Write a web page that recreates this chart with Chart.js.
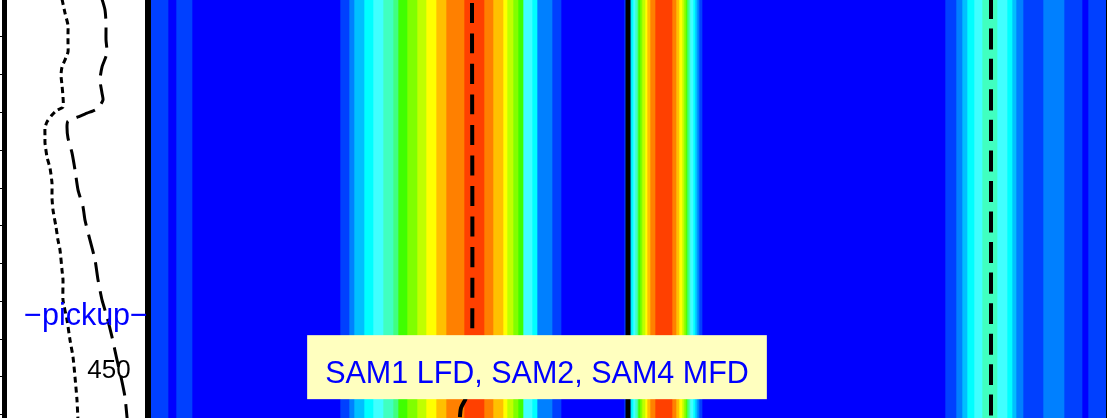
<!DOCTYPE html>
<html>
<head>
<meta charset="utf-8">
<script src="https://cdn.jsdelivr.net/npm/chart.js@4/dist/chart.umd.min.js"></script>
<style>
  html, body { margin: 0; padding: 0; background: #fff; }
  #wrap { position: relative; width: 1107px; height: 418px; overflow: hidden; }
  #profile { position: absolute; left: 0; top: 0; }
  #heat { position: absolute; left: 151px; top: 0; }
</style>
</head>
<body>
<div id="wrap">
  <canvas id="heat" width="956" height="418"></canvas>
  <canvas id="profile" width="151" height="418"></canvas>
</div>
<script>
// --- data ---------------------------------------------------------------
// depth axis (shared by both panels), visible window of the plot
const depthMin = 0.26;
const depthMax = 110.85;

// left panel: two profiles (x value, depth)
const dottedX = [58, 61, 64, 64, 64, 64, 61, 58, 57, 58, 59, 59, 53, 48, 43, 41, 41, 41, 43, 46, 48, 48, 49, 52, 54, 56, 58, 59, 59, 63, 66, 69, 71, 73, 74];
const dottedDepth = [0, 3.7, 6.9, 9.0, 11.6, 14.0, 16.1, 18.0, 20.1, 22.8, 25.9, 28.6, 29.4, 30.7, 32.5, 34.1, 36.5, 38.1, 41.8, 44.7, 48.7, 52.6, 55.8, 60.3, 63.8, 66.4, 71.7, 74.3, 79.6, 84.9, 90.2, 94.7, 100.0, 106.1, 111.5];
const dashedX = [98, 101, 102, 102, 103, 98, 96, 98, 99, 95, 91, 83, 74, 64, 63, 64, 68, 71, 74, 79, 81, 86, 91, 94, 98, 103, 108, 113, 117, 121, 123, 124];
const dashedDepth = [0, 2.9, 6.3, 10.8, 14.3, 18.0, 21.4, 24.9, 26.7, 28.6, 29.4, 30.2, 31.2, 32.3, 33.9, 36.8, 40.7, 45.2, 50.5, 55.0, 58.5, 63.8, 69.0, 74.3, 79.6, 84.1, 89.4, 95.5, 100.0, 105.3, 110.6, 112.7];

// right panel: filled intensity levels along the scan axis
const scanMax = 955;
const levelColors = ['#0000FF', '#0040FF', '#0080FF', '#00C0FF', '#00FFFF', '#40FFFF', '#40FFC0', '#40FF80',
                     '#40FF00', '#80FF00', '#C0FF00', '#FFFF00', '#FFC000', '#FF8000', '#FF4000'];
const stripeStart = [0, 17, 25, 41,
  189, 198, 203, 213, 222, 232, 242, 247, 256, 266, 275, 285, 295, 313, 333, 342, 352, 356, 362, 367, 372, 381, 386, 401, 410,
  473, 476, 478, 480, 482, 484, 486, 487, 489, 491, 494, 496, 499, 504, 521, 525, 528, 531, 533, 535, 536, 538, 539, 542, 544, 546, 548, 551,
  794, 805, 811, 816, 823, 831, 846, 856, 861, 865, 872, 892, 913, 931, 937];
const stripeLevel = [1, 0, 1, 0,
  1, 2, 3, 4, 5, 6, 7, 8, 9, 10, 11, 12, 13, 14, 13, 12, 11, 10, 9, 8, 5, 4, 2, 1, 0,
  1, 2, 3, 4, 5, 6, 7, 8, 9, 10, 11, 12, 13, 14, 13, 12, 11, 10, 9, 8, 7, 6, 5, 4, 3, 2, 1, 0,
  1, 2, 3, 4, 5, 6, 5, 4, 3, 2, 1, 2, 1, 0, 1];

// marker lines on the heat map (scan, depth)
const marker1Scan = [321, 321, 318, 314, 310, 309, 309];
const marker1Depth = [0, 100.5, 104.0, 106.1, 108.2, 110.3, 112];
const marker2Scan = [477, 477];
const marker2Depth = [0, 112];
const marker3Scan = [840, 840];
const marker3Depth = [0, 112];

// annotations
const pickupText = '\u2212pickup\u2212';
const pickupPos = [82, 86.2];
const contourText = '450';
const contourPos = [105, 100.3];
const sampleText = 'SAM1 LFD, SAM2, SAM4 MFD';
const samplePos = [386, 97.4];

const toPoints = (xs, ys) => xs.map((x, i) => ({ x: x, y: ys[i] }));
const FONT = '"Liberation Sans", Arial, Helvetica, sans-serif';

// --- left panel ----------------------------------------------------------
const profileText = {
  id: 'profileText',
  afterDraw(chart) {
    const { ctx, scales } = chart;
    ctx.save();
    ctx.textAlign = 'center';
    ctx.textBaseline = 'alphabetic';
    ctx.font = '30.5px ' + FONT;
    ctx.fillStyle = '#0000FF';
    ctx.fillText(pickupText, scales.x.getPixelForValue(pickupPos[0]), scales.y.getPixelForValue(pickupPos[1]));
    ctx.font = '26px ' + FONT;
    ctx.fillStyle = '#000';
    ctx.fillText(contourText, scales.x.getPixelForValue(contourPos[0]), scales.y.getPixelForValue(contourPos[1]));
    ctx.restore();
  }
};

new Chart(document.getElementById('profile'), {
  type: 'scatter',
  data: {
    datasets: [{
      data: toPoints(dottedX, dottedDepth),
      showLine: true,
      borderColor: '#000',
      borderWidth: 3,
      borderDash: [6, 4],
      pointRadius: 0,
      tension: 0.2
    }, {
      data: toPoints(dashedX, dashedDepth),
      showLine: true,
      borderColor: '#000',
      borderWidth: 3,
      borderDash: [20, 9],
      pointRadius: 0,
      tension: 0.2
    }]
  },
  options: {
    responsive: false,
    animation: false,
    layout: { padding: { right: 3 } },
    plugins: { legend: { display: false }, tooltip: { enabled: false } },
    scales: {
      x: { type: 'linear', min: 0, max: 144, display: false },
      y: {
        type: 'linear', reverse: true, min: depthMin, max: depthMax,
        ticks: { display: false, stepSize: 10, includeBounds: false },
        grid: { drawOnChartArea: false, drawTicks: true, tickLength: 4, color: '#000', lineWidth: 1 },
        border: { color: '#000', width: 5 }
      },
      yEdge: {
        axis: 'y', position: 'right', min: 0, max: 1,
        ticks: { display: false },
        grid: { display: false, drawTicks: false },
        border: { color: '#000', width: 6 }
      }
    }
  },
  plugins: [profileText]
});

// --- right panel ---------------------------------------------------------
const sampleLabel = {
  id: 'sampleLabel',
  afterDraw(chart) {
    const { ctx, scales } = chart;
    const cx = scales.x.getPixelForValue(samplePos[0]);
    const cy = scales.yv.getPixelForValue(samplePos[1]);
    ctx.save();
    ctx.font = '30.5px ' + FONT;
    const w = ctx.measureText(sampleText).width + 36;
    const h = 64;
    ctx.fillStyle = '#FFFFBF';
    ctx.fillRect(cx - w / 2, cy - h / 2, w, h);
    ctx.fillStyle = '#0000FF';
    ctx.textAlign = 'center';
    ctx.textBaseline = 'alphabetic';
    ctx.fillText(sampleText, cx, cy + 16);
    ctx.restore();
  }
};

const stripeSets = stripeStart.map((s, i) => ({
  type: 'bar',
  data: [[s, i + 1 < stripeStart.length ? stripeStart[i + 1] : scanMax]],
  backgroundColor: levelColors[stripeLevel[i]],
  borderWidth: 0,
  grouped: false,
  barPercentage: 1,
  categoryPercentage: 1,
  xAxisID: 'x',
  yAxisID: 'y',
  order: 1
}));

const markerSet = (xs, ys, width, dash, offset) => ({
  type: 'line',
  indexAxis: 'x',
  data: toPoints(xs, ys),
  borderColor: '#000',
  borderWidth: width,
  borderDash: dash,
  borderDashOffset: offset,
  pointRadius: 0,
  tension: 0.3,
  xAxisID: 'x',
  yAxisID: 'yv',
  order: 0
});

new Chart(document.getElementById('heat'), {
  type: 'bar',
  data: {
    labels: ['intensity'],
    datasets: [
      markerSet(marker1Scan, marker1Depth, 4, [20, 10.5], 26.5),
      markerSet(marker2Scan, marker2Depth, 5, [], 0),
      markerSet(marker3Scan, marker3Depth, 4, [21, 9.5], 1),
      ...stripeSets
    ]
  },
  options: {
    indexAxis: 'y',
    responsive: false,
    animation: false,
    layout: { padding: { right: 1 } },
    plugins: { legend: { display: false }, tooltip: { enabled: false } },
    scales: {
      x: { type: 'linear', min: 0, max: scanMax, display: false, offset: false },
      y: { type: 'category', display: false },
      yv: { type: 'linear', axis: 'y', reverse: true, min: depthMin, max: depthMax, display: false, offset: false },
      yEdge: {
        axis: 'y', position: 'right', min: 0, max: 1, offset: false,
        ticks: { display: false },
        grid: { display: false, drawTicks: false },
        border: { color: '#000', width: 2 }
      }
    }
  },
  plugins: [sampleLabel]
});
</script>
</body>
</html>
